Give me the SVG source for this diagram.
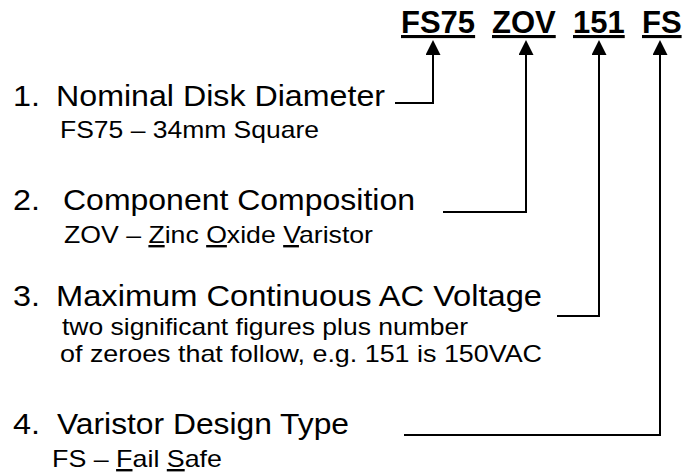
<svg xmlns="http://www.w3.org/2000/svg" width="686" height="473" viewBox="0 0 686 473">
  <style>
    .code { font-family: "Liberation Sans", Arial, sans-serif; font-weight: bold; font-size: 31px; fill: #000; text-decoration: underline; }
    .title { font-family: "Liberation Sans", Arial, sans-serif; font-size: 30px; fill: #000; }
    .sub { font-family: "Liberation Sans", Arial, sans-serif; font-size: 24px; fill: #000; }
    .u { text-decoration: underline; }
    .conn { fill: none; stroke: #000; stroke-width: 2; }
  </style>
  <defs>
    <marker id="arrow" viewBox="0 0 10 10" refX="0" refY="5" markerUnits="userSpaceOnUse" markerWidth="15" markerHeight="15" orient="auto">
      <path d="M0,0 L10,5 L0,10 Z" fill="#000"/>
    </marker>
  </defs>
  <rect width="686" height="473" fill="#fff"/>

  <g id="code-fs75"><text class="code" x="401" y="33">FS75</text></g>
  <g id="code-zov"><text class="code" x="492" y="33">ZOV</text></g>
  <g id="code-151"><text class="code" x="573" y="33">151</text></g>
  <g id="code-fs"><text class="code" x="642" y="33">FS</text></g>

  <g id="item1">
    <text class="title" x="13" y="106" textLength="27" lengthAdjust="spacingAndGlyphs">1.</text>
    <text class="title" x="56" y="106" textLength="329" lengthAdjust="spacingAndGlyphs">Nominal Disk Diameter</text>
    <text class="sub" x="60" y="138" textLength="259" lengthAdjust="spacingAndGlyphs">FS75 – 34mm Square</text>
  </g>
  <g id="item2">
    <text class="title" x="13" y="210" textLength="27" lengthAdjust="spacingAndGlyphs">2.</text>
    <text class="title" x="63" y="210" textLength="352" lengthAdjust="spacingAndGlyphs">Component Composition</text>
    <text class="sub" x="64" y="243" textLength="309" lengthAdjust="spacingAndGlyphs">ZOV – <tspan class="u">Z</tspan>inc <tspan class="u">O</tspan>xide <tspan class="u">V</tspan>aristor</text>
  </g>
  <g id="item3">
    <text class="title" x="13" y="306" textLength="27" lengthAdjust="spacingAndGlyphs">3.</text>
    <text class="title" x="56" y="306" textLength="486" lengthAdjust="spacingAndGlyphs">Maximum Continuous AC Voltage</text>
    <text class="sub" x="62" y="335" textLength="406" lengthAdjust="spacingAndGlyphs">two significant figures plus number</text>
    <text class="sub" x="60" y="362" textLength="482" lengthAdjust="spacingAndGlyphs">of zeroes that follow, e.g. 151 is 150VAC</text>
  </g>
  <g id="item4">
    <text class="title" x="13" y="434" textLength="27" lengthAdjust="spacingAndGlyphs">4.</text>
    <text class="title" x="57" y="434" textLength="292" lengthAdjust="spacingAndGlyphs">Varistor Design Type</text>
    <text class="sub" x="52" y="467" textLength="170" lengthAdjust="spacingAndGlyphs">FS – <tspan class="u">F</tspan>ail <tspan class="u">S</tspan>afe</text>
  </g>

  <g id="connectors">
    <path class="conn" d="M395,103 H433 V55" marker-end="url(#arrow)"/>
    <path class="conn" d="M443,212 H526 V55" marker-end="url(#arrow)"/>
    <path class="conn" d="M557,316 H599 V55" marker-end="url(#arrow)"/>
    <path class="conn" d="M404,435 H660 V55" marker-end="url(#arrow)"/>
  </g>
</svg>
